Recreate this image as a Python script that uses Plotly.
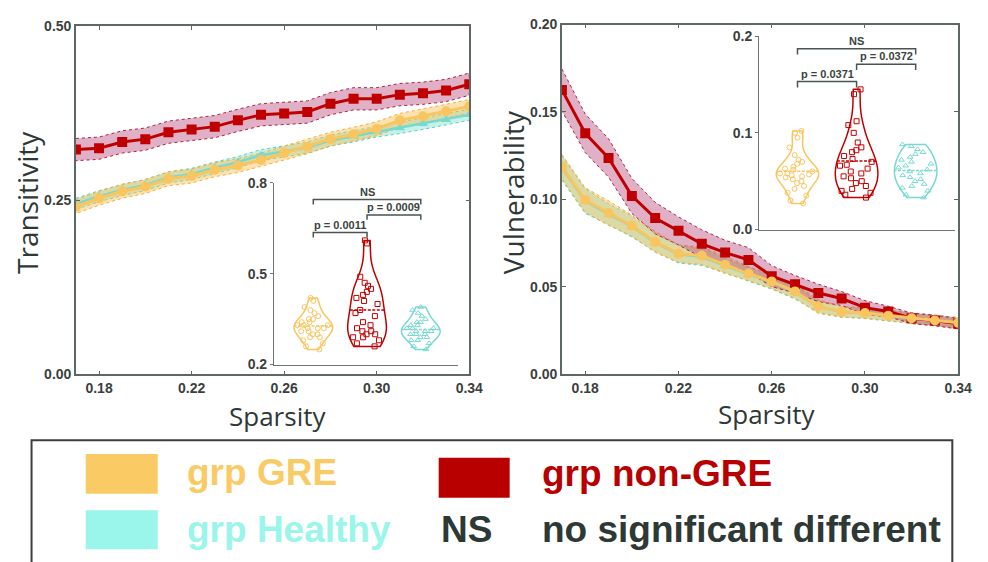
import plotly.graph_objects as go

W, H = 988, 562

# ---------------- data ----------------
sparsity = [0.17, 0.18, 0.19, 0.20, 0.21, 0.22, 0.23, 0.24, 0.25, 0.26,
            0.27, 0.28, 0.29, 0.30, 0.31, 0.32, 0.33, 0.34]

trans_gre = [0.241, 0.253, 0.263, 0.270, 0.281, 0.285, 0.294, 0.300, 0.308, 0.318,
             0.327, 0.338, 0.345, 0.353, 0.365, 0.371, 0.378, 0.385]
trans_non = [0.323, 0.325, 0.334, 0.338, 0.348, 0.352, 0.356, 0.365, 0.373, 0.375,
             0.377, 0.389, 0.396, 0.396, 0.402, 0.404, 0.408, 0.417]
trans_hea = [0.245, 0.256, 0.265, 0.272, 0.283, 0.288, 0.297, 0.305, 0.315, 0.320,
             0.326, 0.336, 0.342, 0.349, 0.354, 0.360, 0.366, 0.373]
trans_gre_sd = [0.010] * 18
trans_non_sd = [0.016] * 18
trans_hea_sd = [0.008] * 18

vul_gre = [0.1187, 0.0996, 0.0922, 0.0850, 0.0757, 0.0690, 0.0678, 0.0626, 0.0576, 0.0530,
           0.0474, 0.0387, 0.0357, 0.0350, 0.0335, 0.0320, 0.0307, 0.0294]
vul_non = [0.1626, 0.1378, 0.1237, 0.1020, 0.0893, 0.0820, 0.0746, 0.0696, 0.0654, 0.0561,
           0.0515, 0.0465, 0.0433, 0.0381, 0.0359, 0.0320, 0.0307, 0.0289]
vul_hea = [0.1180, 0.0990, 0.0915, 0.0845, 0.0752, 0.0686, 0.0672, 0.0622, 0.0572, 0.0527,
           0.0470, 0.0385, 0.0356, 0.0349, 0.0334, 0.0320, 0.0307, 0.0295]
vul_gre_sd = [0.007, 0.007, 0.007, 0.006, 0.006, 0.005, 0.005, 0.005, 0.004, 0.004,
              0.004, 0.004, 0.003, 0.003, 0.003, 0.003, 0.003, 0.003]
vul_non_sd = [0.012, 0.011, 0.011, 0.010, 0.009, 0.008, 0.008, 0.007, 0.007, 0.006,
              0.005, 0.005, 0.004, 0.004, 0.003, 0.003, 0.003, 0.003]
vul_hea_sd = [0.007, 0.007, 0.006, 0.006, 0.005, 0.005, 0.005, 0.004, 0.004, 0.004,
              0.004, 0.003, 0.003, 0.003, 0.003, 0.003, 0.003, 0.003]

# inset (violin) samples
t_gre_pts = [0.25, 0.26, 0.27, 0.28, 0.29, 0.29, 0.30, 0.30, 0.31, 0.31, 0.32, 0.32, 0.32,
             0.33, 0.33, 0.33, 0.34, 0.34, 0.35, 0.35, 0.36, 0.37, 0.38, 0.39, 0.41, 0.42]
t_non_pts = [0.26, 0.27, 0.28, 0.29, 0.29, 0.30, 0.30, 0.31, 0.31, 0.32, 0.33, 0.34, 0.36,
             0.37, 0.38, 0.40, 0.41, 0.42, 0.43, 0.44, 0.45, 0.46, 0.47, 0.49, 0.60, 0.61]
t_hea_pts = [0.25, 0.26, 0.27, 0.28, 0.28, 0.29, 0.29, 0.30, 0.30, 0.30, 0.31, 0.31, 0.31,
             0.32, 0.32, 0.32, 0.33, 0.33, 0.34, 0.34, 0.35, 0.36, 0.37, 0.38, 0.39]
v_gre_pts = [0.027, 0.030, 0.035, 0.038, 0.042, 0.045, 0.048, 0.050, 0.052, 0.054, 0.055,
             0.056, 0.057, 0.058, 0.058, 0.060, 0.062, 0.063, 0.065, 0.068, 0.070, 0.072,
             0.077, 0.085, 0.095, 0.100, 0.102]
v_non_pts = [0.033, 0.036, 0.038, 0.040, 0.042, 0.045, 0.048, 0.050, 0.053, 0.055, 0.058,
             0.060, 0.063, 0.066, 0.067, 0.070, 0.073, 0.076, 0.080, 0.082, 0.085, 0.090,
             0.100, 0.108, 0.112, 0.140, 0.145]
v_hea_pts = [0.033, 0.036, 0.040, 0.043, 0.045, 0.047, 0.050, 0.052, 0.054, 0.056, 0.058,
             0.060, 0.062, 0.064, 0.066, 0.068, 0.070, 0.072, 0.075, 0.078, 0.080, 0.083,
             0.086, 0.088]

# significance brackets: (from group, to group, level, label)
t_brackets = [(1, 3, 0.745, "NS"), (2, 3, 0.694, "p = 0.0009"), (1, 2, 0.636, "p = 0.0011")]
v_brackets = [(1, 3, 0.187, "NS"), (2, 3, 0.171, "p = 0.0372"), (1, 2, 0.153, "p = 0.0371")]

legend_items = ["grp GRE", "grp non-GRE", "grp Healthy", "NS", "no significant different"]

# ---------------- styles ----------------
C_GRE = "#F9C55E"
C_NON = "#C00000"
C_HEA = "#78D9D1"
BAND_GRE = "rgba(249,190,80,0.45)"
BAND_NON = "rgba(180,70,120,0.42)"
BAND_HEA = "rgba(110,220,200,0.40)"
AX = "#5E6764"
DARK = "#2E3835"
TICKFONT = dict(family="Liberation Sans, Arial", size=14, color="#3A3F3E", weight="bold")


def fx(px):
    return px / W


def fy(py):
    return 1 - py / H


fig = go.Figure()


def band(x, m, sd, fill, edge, xa, ya):
    up = [a + b for a, b in zip(m, sd)]
    lo = [a - b for a, b in zip(m, sd)]
    fig.add_trace(go.Scatter(x=x + x[::-1], y=up + lo[::-1], fill="toself", fillcolor=fill,
                             line=dict(color=edge, width=1, dash="dot"), mode="lines",
                             hoverinfo="skip", showlegend=False, xaxis=xa, yaxis=ya))


def line(x, y, color, symbol, size, width, xa, ya):
    fig.add_trace(go.Scatter(x=x, y=y, mode="lines+markers",
                             line=dict(color=color, width=width),
                             marker=dict(symbol=symbol, size=size, color=color),
                             showlegend=False, xaxis=xa, yaxis=ya))


# left main
band(sparsity, trans_hea, trans_hea_sd, BAND_HEA, "#60CFC0", "x", "y")
band(sparsity, trans_gre, trans_gre_sd, BAND_GRE, "#F0B040", "x", "y")
band(sparsity, trans_non, trans_non_sd, BAND_NON, "#B02040", "x", "y")
line(sparsity, trans_hea, C_HEA, "triangle-up", 9, 2.5, "x", "y")
line(sparsity, trans_non, C_NON, "square", 10, 3, "x", "y")
line(sparsity, trans_gre, C_GRE, "circle", 10, 3, "x", "y")

# right main
band(sparsity, vul_hea, vul_hea_sd, BAND_HEA, "#60CFC0", "x2", "y2")
band(sparsity, vul_gre, vul_gre_sd, BAND_GRE, "#F0B040", "x2", "y2")
band(sparsity, vul_non, vul_non_sd, BAND_NON, "#B02040", "x2", "y2")
line(sparsity, vul_hea, C_HEA, "triangle-up", 9, 2.5, "x2", "y2")
line(sparsity, vul_non, C_NON, "square", 10, 3, "x2", "y2")
line(sparsity, vul_gre, C_GRE, "circle", 10, 3, "x2", "y2")


def violin(pts, pos, color, symbol, xa, ya):
    fig.add_trace(go.Violin(y=pts, x0=pos, width=0.72, spanmode="hard", scalemode="width",
                            line=dict(color=color, width=1.5), fillcolor="rgba(255,255,255,0)",
                            points="all", pointpos=0, jitter=0.85,
                            marker=dict(symbol=symbol, size=5, color=color,
                                        line=dict(color=color, width=1)),
                            meanline=dict(visible=True, color=color, width=1.5),
                            showlegend=False, hoverinfo="skip", xaxis=xa, yaxis=ya))


violin(t_gre_pts, 1, C_GRE, "circle-open", "x3", "y3")
violin(t_non_pts, 2, C_NON, "square-open", "x3", "y3")
violin(t_hea_pts, 3, C_HEA, "triangle-up-open", "x3", "y3")
violin(v_gre_pts, 1, C_GRE, "circle-open", "x4", "y4")
violin(v_non_pts, 2, C_NON, "square-open", "x4", "y4")
violin(v_hea_pts, 3, C_HEA, "triangle-up-open", "x4", "y4")

shapes = []
annotations = []


def brackets(br, xa, ya, drop, gap):
    for a, b, lvl, lab in br:
        shapes.append(dict(type="path", xref=xa, yref=ya,
                           path=f"M {a},{lvl - drop} L {a},{lvl} L {b},{lvl} L {b},{lvl - drop}",
                           line=dict(color="#4A5451", width=1.5)))
        annotations.append(dict(x=(a + b) / 2, y=lvl + gap, xref=xa, yref=ya, text=f"<b>{lab}</b>",
                                showarrow=False, yanchor="bottom",
                                font=dict(family="Liberation Sans, Arial", size=11, color="#3A4340")))


brackets(t_brackets, "x3", "y3", 0.016, 0.0)
brackets(v_brackets, "x4", "y4", 0.006, 0.0)

main_ax = dict(showline=True, linecolor=AX, linewidth=1.5, mirror="ticks", ticks="inside",
               ticklen=4, tickcolor=AX, tickwidth=1.2, showgrid=False, zeroline=False,
               tickfont=TICKFONT)

fig.update_layout(
    width=W, height=H, margin=dict(l=0, r=0, t=0, b=0),
    paper_bgcolor="white", plot_bgcolor="rgba(0,0,0,0)",
    xaxis=dict(main_ax, domain=[fx(77), fx(476)], range=[0.17, 0.34],
               tickvals=[0.18, 0.22, 0.26, 0.30, 0.34], tickformat=".2f", anchor="y"),
    yaxis=dict(main_ax, domain=[fy(377), fy(19)], range=[0, 0.5],
               tickvals=[0, 0.25, 0.5], tickformat=".2f", anchor="x"),
    xaxis2=dict(main_ax, domain=[fx(570), fx(972)], range=[0.17, 0.34],
                tickvals=[0.18, 0.22, 0.26, 0.30, 0.34], tickformat=".2f", anchor="y2"),
    yaxis2=dict(main_ax, domain=[fy(377), fy(17)], range=[0, 0.2],
                tickvals=[0, 0.05, 0.10, 0.15, 0.20], tickformat=".2f", anchor="x2"),
    xaxis3=dict(domain=[fx(278), fx(465)], range=[0.27, 3.7], showline=True, linecolor="#6E7673",
                linewidth=1.2, showticklabels=False, ticks="", showgrid=False, zeroline=False,
                anchor="y3"),
    yaxis3=dict(domain=[fy(367), fy(180)], range=[0.2, 0.8], showline=True, linecolor="#6E7673",
                linewidth=1.2, tickvals=[0.2, 0.5, 0.8], tickformat=".1f", ticks="outside",
                ticklen=3, tickcolor="#6E7673", showgrid=False, zeroline=False,
                tickfont=TICKFONT, anchor="x3"),
    xaxis4=dict(domain=[fx(770), fx(969)], range=[0.35, 3.67], showline=True, linecolor="#6E7673",
                linewidth=1.2, showticklabels=False, ticks="", showgrid=False, zeroline=False,
                anchor="y4"),
    yaxis4=dict(domain=[fy(228), fy(29)], range=[0, 0.2], showline=True, linecolor="#6E7673",
                linewidth=1.2, tickvals=[0, 0.1, 0.2], tickformat=".1f", ticks="outside",
                ticklen=3, tickcolor="#6E7673", showgrid=False, zeroline=False,
                tickfont=TICKFONT, anchor="x4"),
)

TITLEFONT = dict(family="Open Sans, Noto Sans", size=26, color=DARK)
annotations += [
    dict(x=fx(281), y=fy(420), xref="paper", yref="paper", text="Sparsity", showarrow=False,
         font=TITLEFONT, xanchor="center", yanchor="middle"),
    dict(x=fx(778), y=fy(418), xref="paper", yref="paper", text="Sparsity", showarrow=False,
         font=TITLEFONT, xanchor="center", yanchor="middle"),
    dict(x=fx(28), y=fy(200), xref="paper", yref="paper", text="Transitivity", showarrow=False,
         font=dict(TITLEFONT, size=28), textangle=-90, xanchor="center", yanchor="middle"),
    dict(x=fx(520), y=fy(190), xref="paper", yref="paper", text="Vulnerability", showarrow=False,
         font=dict(TITLEFONT, size=28), textangle=-90, xanchor="center", yanchor="middle"),
]

# legend box
shapes.append(dict(type="rect", xref="paper", yref="paper", x0=fx(32), x1=fx(966),
                   y0=fy(600), y1=fy(445), line=dict(color="#3A3F3E", width=2)))
sq = [(87, 160, 459, 500, "#FACB64"), (445, 517, 463, 504, "#B80000"),
      (87, 160, 517, 557, "#9AF5EA")]
for x0, x1, y0, y1, c in sq:
    shapes.append(dict(type="rect", xref="paper", yref="paper", x0=fx(x0), x1=fx(x1),
                       y0=fy(y1), y1=fy(y0), line=dict(width=0), fillcolor=c))
LF = "Liberation Sans, Arial"
leg_pos = [(188, 478, "#FACB64"), (548, 479, "#B80000"), (188, 537, "#9AF5EA"),
           (445, 537, DARK), (548, 537, DARK)]
for (lx, ly, lc), txt in zip(leg_pos, legend_items):
    annotations.append(dict(x=fx(lx), y=fy(ly), xref="paper", yref="paper", text=f"<b>{txt}</b>",
                            showarrow=False, xanchor="left", yanchor="middle",
                            font=dict(family=LF, size=37, color=lc)))

fig.update_layout(shapes=shapes, annotations=annotations)
fig.write_html(
    "out.html",
    config={"displayModeBar": False},
    post_script=("document.body.style.margin='0';"
                 "document.body.style.overflow='hidden';"
                 "document.documentElement.style.overflow='hidden';"),
)
